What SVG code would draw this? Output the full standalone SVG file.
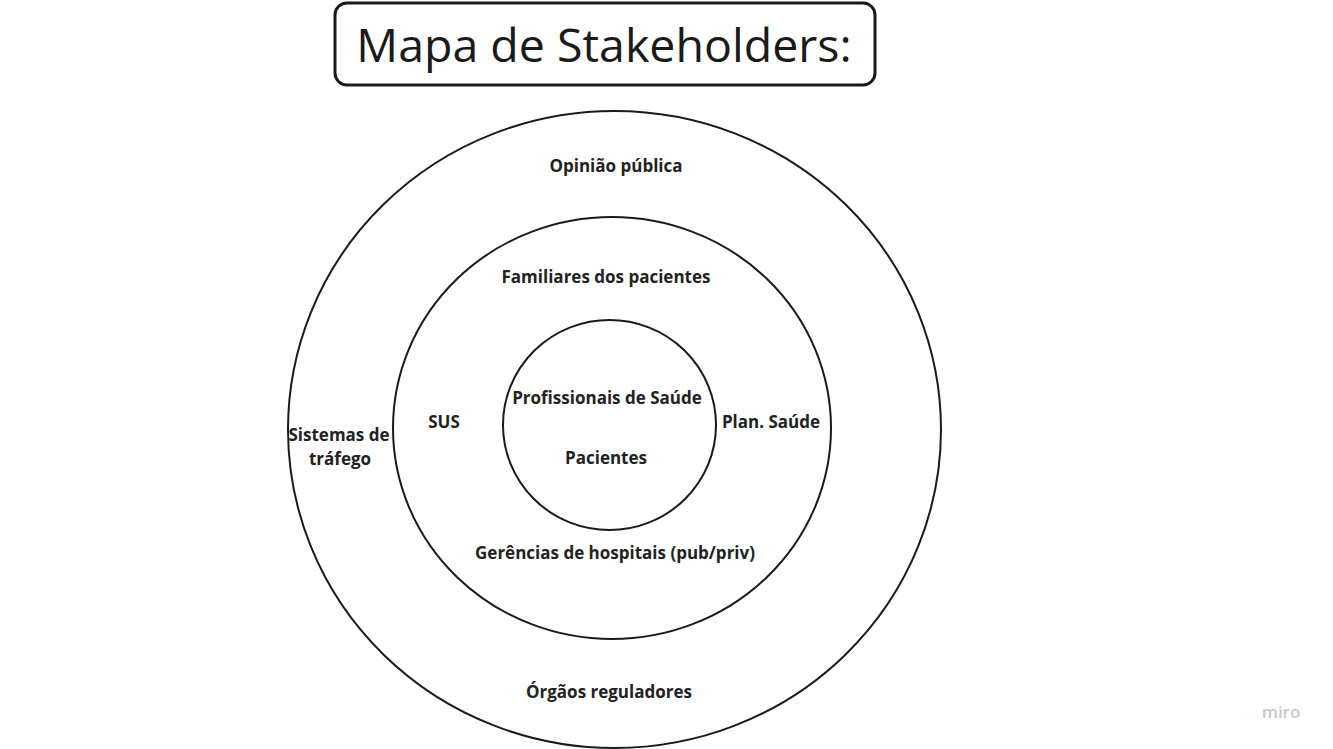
<svg xmlns="http://www.w3.org/2000/svg" width="1333" height="749" viewBox="0 0 1333 749">
<style>
.ring{fill:none;stroke:#1a1a1a;stroke-width:2}
.lbl{font-family:"Open Sans",sans-serif;font-weight:bold;font-size:17px;fill:#222;text-anchor:middle}
</style>
<rect width="1333" height="749" fill="#fff"/>
<g id="title">
<rect x="335" y="3" width="540" height="82" rx="12" fill="#fff" stroke="#1a1a1a" stroke-width="3"/>
<text x="604" y="62" font-family="'Open Sans',sans-serif" font-size="46.5" fill="#1a1a1a" text-anchor="middle">Mapa de Stakeholders:</text>
</g>
<g id="outer">
<ellipse class="ring" cx="614.5" cy="429.5" rx="326.5" ry="318.5"/>
<text class="lbl" x="616" y="172">Opinião pública</text>
<text class="lbl" x="339" y="441">Sistemas de</text>
<text class="lbl" x="340" y="465">tráfego</text>
<text class="lbl" x="609" y="698">Órgãos reguladores</text>
</g>
<g id="middle">
<ellipse class="ring" cx="612" cy="428" rx="219" ry="211"/>
<text class="lbl" x="606" y="283">Familiares dos pacientes</text>
<text class="lbl" x="444" y="428">SUS</text>
<text class="lbl" x="771" y="428">Plan. Saúde</text>
<text class="lbl" x="615" y="559">Gerências de hospitais (pub/priv)</text>
</g>
<g id="inner">
<ellipse class="ring" cx="609.5" cy="425" rx="106.5" ry="105"/>
<text class="lbl" x="607" y="404">Profissionais de Saúde</text>
<text class="lbl" x="606" y="464">Pacientes</text>
</g>
<text x="1281" y="718" font-family="'Open Sans',sans-serif" font-size="17" font-weight="600" fill="#c8c8d0" text-anchor="middle">miro</text>
</svg>
